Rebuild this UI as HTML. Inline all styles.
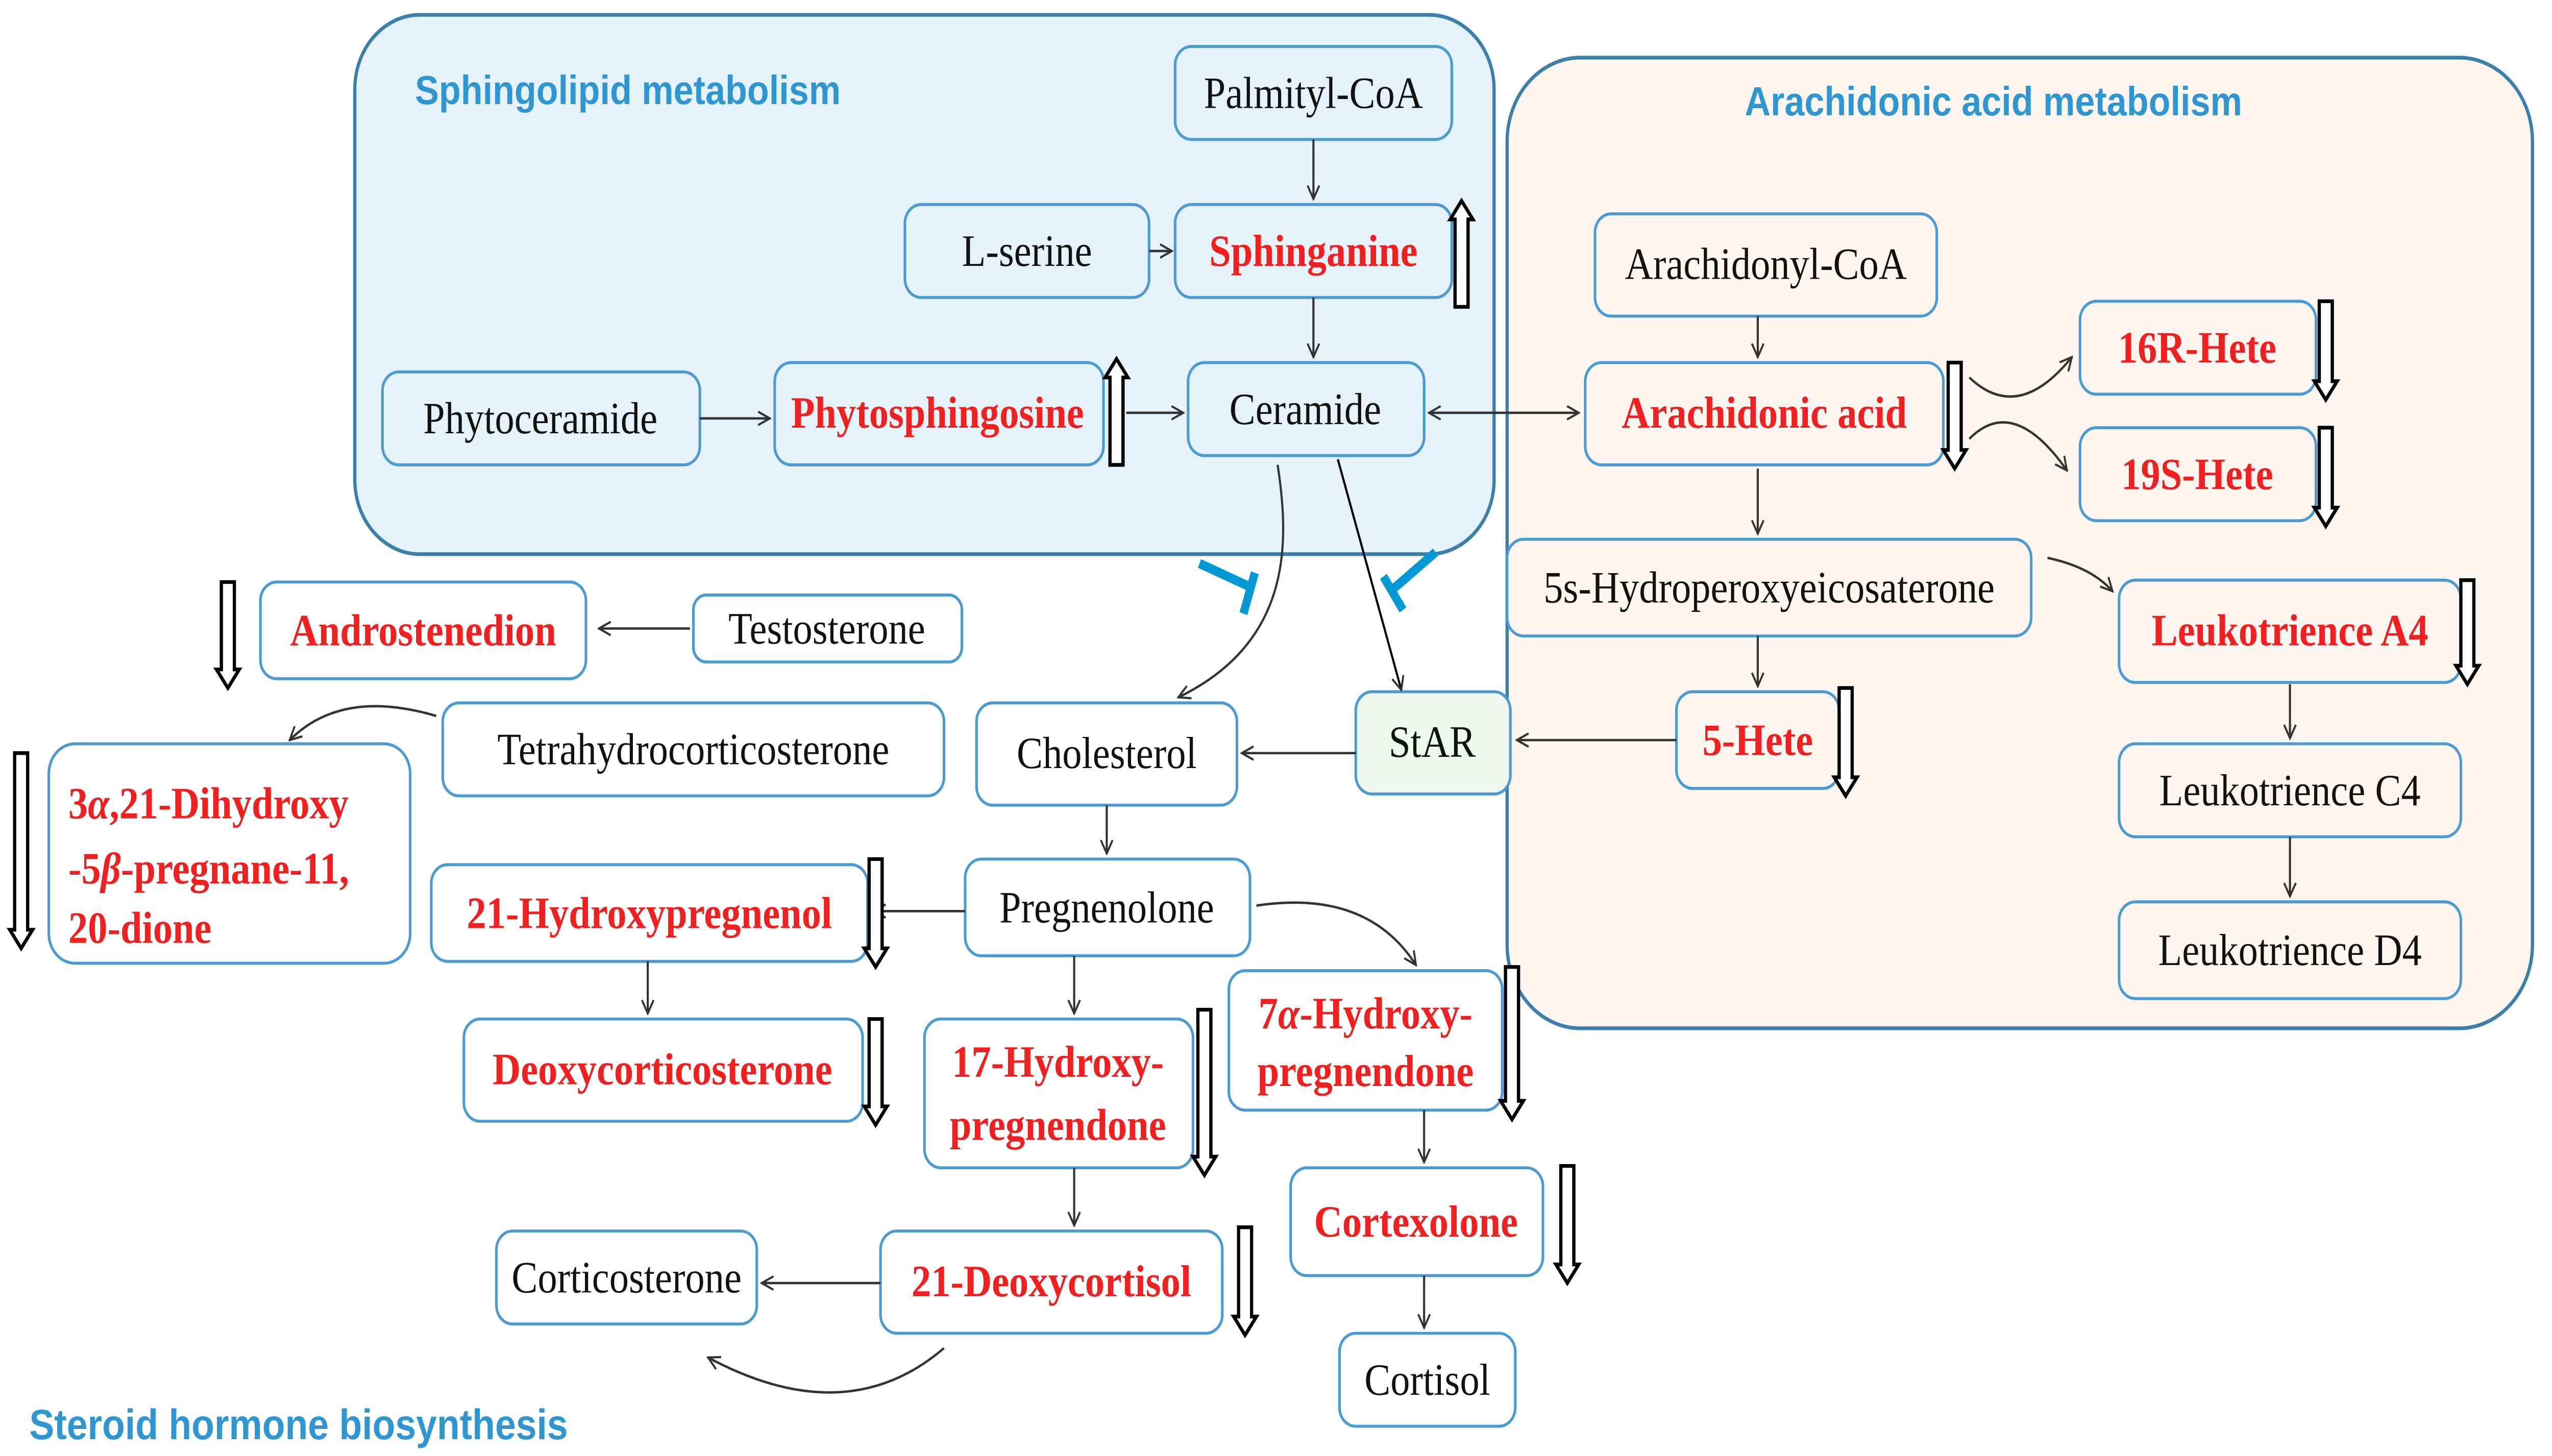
<!DOCTYPE html>
<html><head><meta charset="utf-8"><style>
html,body{margin:0;padding:0;background:#fff;width:100%;height:100%;overflow:hidden;}
svg{display:block;width:100vw;height:100vh;}
.b{fill:#fff;stroke:#4a9ad3;stroke-width:1.6;}
.t{font-family:"Liberation Serif",serif;font-size:24px;fill:#111;text-anchor:middle;dominant-baseline:central;}
.r{font-family:"Liberation Serif",serif;font-size:24px;fill:#f02020;font-weight:bold;text-anchor:middle;dominant-baseline:central;}
.ti{font-family:"Liberation Sans",sans-serif;font-size:22px;fill:#2f96d2;font-weight:bold;}
.c{fill:none;stroke:#333;stroke-width:1.3;}
.h{fill:#fff;stroke:#000;stroke-width:2;}
.inh{stroke:#0099d4;stroke-width:5;fill:none;}
</style></head><body>
<svg viewBox="0 0 1568 783" preserveAspectRatio="none" xmlns="http://www.w3.org/2000/svg">
<defs>
<marker id="m" viewBox="0 0 10 10" refX="9" refY="5" markerWidth="9" markerHeight="9" orient="auto-start-reverse" markerUnits="userSpaceOnUse"><path d="M1,1 L9,5 L1,9" fill="none" stroke="#333" stroke-width="1.3"/></marker>
</defs>
<rect x="218" y="8" width="700" height="290" rx="40" fill="#e5f2fa" stroke="#3d7fab" stroke-width="2"/>
<rect x="926" y="31" width="630" height="522" rx="45" fill="#fdf5f0" stroke="#3d7fab" stroke-width="2"/>
<text class="ti" x="255" y="56">Sphingolipid  metabolism</text>
<text class="ti" x="1072" y="62">Arachidonic acid metabolism</text>
<text class="ti" x="18" y="774" style="font-size:23px">Steroid hormone biosynthesis</text>

<rect class="b" x="722" y="25" width="170" height="50" rx="10" style="fill:#e5f2fa"/><text class="t" x="807" y="50">Palmityl-CoA</text>
<rect class="b" x="556" y="110" width="150" height="50" rx="10" style="fill:#e5f2fa"/><text class="t" x="631" y="135">L-serine</text>
<rect class="b" x="722" y="110" width="170" height="50" rx="10" style="fill:#e5f2fa"/><text class="r" x="807" y="135">Sphinganine</text>
<rect class="b" x="235" y="200" width="195" height="50" rx="10" style="fill:#e5f2fa"/><text class="t" x="332" y="225">Phytoceramide</text>
<rect class="b" x="476" y="195" width="202" height="55" rx="10" style="fill:#e5f2fa"/><text class="r" x="576" y="222">Phytosphingosine</text>
<rect class="b" x="730" y="195" width="145" height="50" rx="10" style="fill:#e5f2fa"/><text class="t" x="802" y="220">Ceramide</text>

<rect class="b" x="980" y="115" width="210" height="55" rx="10" style="fill:#fdf5f0"/><text class="t" x="1085" y="142">Arachidonyl-CoA</text>
<rect class="b" x="974" y="195" width="220" height="55" rx="10" style="fill:#fdf5f0"/><text class="r" x="1084" y="222">Arachidonic acid</text>
<rect class="b" x="1278" y="162" width="145" height="50" rx="10" style="fill:#fdf5f0"/><text class="r" x="1350" y="187">16R-Hete</text>
<rect class="b" x="1278" y="230" width="145" height="50" rx="10" style="fill:#fdf5f0"/><text class="r" x="1350" y="255">19S-Hete</text>
<rect class="b" x="926" y="290" width="322" height="52" rx="10" style="fill:#fdf5f0"/><text class="t" x="1087" y="316">5s-Hydroperoxyeicosaterone</text>
<rect class="b" x="1302" y="312" width="210" height="55" rx="10" style="fill:#fdf5f0"/><text class="r" x="1407" y="339">Leukotrience A4</text>
<rect class="b" x="1302" y="400" width="210" height="50" rx="10" style="fill:#fdf5f0"/><text class="t" x="1407" y="425">Leukotrience C4</text>
<rect class="b" x="1302" y="485" width="210" height="52" rx="10" style="fill:#fdf5f0"/><text class="t" x="1407" y="511">Leukotrience D4</text>
<rect class="b" x="1030" y="372" width="100" height="52" rx="10" style="fill:#fdf5f0"/><text class="r" x="1080" y="398">5-Hete</text>
<rect class="b" x="833" y="372" width="95" height="55" rx="10" style="fill:#eef6ee"/><text class="t" x="880" y="399">StAR</text>

<rect class="b" x="600" y="378" width="160" height="55" rx="10"/><text class="t" x="680" y="405">Cholesterol</text>
<rect class="b" x="426" y="320" width="165" height="36" rx="8"/><text class="t" x="508" y="338">Testosterone</text>
<rect class="b" x="160" y="313" width="200" height="52" rx="10"/><text class="r" x="260" y="339">Androstenedion</text>
<rect class="b" x="272" y="378" width="308" height="50" rx="10"/><text class="t" x="426" y="403">Tetrahydrocorticosterone</text>
<rect class="b" x="30" y="400" width="222" height="118" rx="16"/>
<text class="r" x="42" y="432" style="text-anchor:start">3<tspan font-style="italic">α</tspan>,21-Dihydroxy</text>
<text class="r" x="42" y="467" style="text-anchor:start">-5<tspan font-style="italic">β</tspan>-pregnane-11,</text>
<text class="r" x="42" y="499" style="text-anchor:start">20-dione</text>
<rect class="b" x="265" y="465" width="268" height="52" rx="10"/><text class="r" x="399" y="491">21-Hydroxypregnenol</text>
<rect class="b" x="593" y="462" width="175" height="52" rx="10"/><text class="t" x="680" y="488">Pregnenolone</text>
<rect class="b" x="285" y="548" width="245" height="55" rx="10"/><text class="r" x="407" y="575">Deoxycorticosterone</text>
<rect class="b" x="568" y="548" width="165" height="80" rx="10"/><text class="r" x="650" y="571">17-Hydroxy-</text><text class="r" x="650" y="605">pregnendone</text>
<rect class="b" x="755" y="522" width="168" height="75" rx="10"/><text class="r" x="839" y="545">7<tspan font-style="italic">α</tspan>-Hydroxy-</text><text class="r" x="839" y="576">pregnendone</text>
<rect class="b" x="793" y="628" width="155" height="58" rx="10"/><text class="r" x="870" y="657">Cortexolone</text>
<rect class="b" x="823" y="717" width="108" height="50" rx="10"/><text class="t" x="877" y="742">Cortisol</text>
<rect class="b" x="541" y="662" width="210" height="55" rx="10"/><text class="r" x="646" y="689">21-Deoxycortisol</text>
<rect class="b" x="305" y="662" width="160" height="50" rx="10"/><text class="t" x="385" y="687">Corticosterone</text>

<g class="c" marker-end="url(#m)">
<path d="M807,75 V107"/>
<path d="M706,135 H720"/>
<path d="M807,160 V192"/>
<path d="M430,225 H473"/>
<path d="M692,222 H727"/>
<path d="M878,222 H970" marker-start="url(#m)"/>
<path d="M1080,170 V192"/>
<path d="M1210,203 Q1240,228 1273,192"/>
<path d="M1210,236 Q1237,212 1270,253"/>
<path d="M1080,252 V287"/>
<path d="M1258,300 Q1285,305 1298,318"/>
<path d="M1407,368 V397"/>
<path d="M1407,450 V482"/>
<path d="M1080,342 V369"/>
<path d="M1030,398 H932"/>
<path d="M833,405 H763"/>
<path d="M822,247 L861,371" stroke="#000"/>
<path d="M785,250 C792,290 795,345 724,375"/>
<path d="M424,338 H368"/>
<path d="M268,385 Q210,370 178,398"/>
<path d="M680,433 V459"/>
<path d="M593,490 H537"/>
<path d="M772,487 Q840,478 870,519"/>
<path d="M660,514 V545"/>
<path d="M398,517 V545"/>
<path d="M660,628 V659"/>
<path d="M875,597 V625"/>
<path d="M875,686 V714"/>
<path d="M541,690 H468"/>
<path d="M580,725 Q520,770 435,730"/>
</g>
<path class="inh" d="M737,303 L769,316 M771,308 L764,330"/>
<path class="inh" d="M882,297 L857,316 M850,310 L862,328"/>

<g class="h">
<polygon points="1197,195 1205,195 1205,242 1208,242 1201,252 1194,242 1197,242"/>
<polygon points="1425,162 1433,162 1433,205 1436,205 1429,215 1422,205 1425,205"/>
<polygon points="1425,230 1433,230 1433,273 1436,273 1429,283 1422,273 1425,273"/>
<polygon points="1512,312 1520,312 1520,358 1523,358 1516,368 1509,358 1512,358"/>
<polygon points="1130,370 1138,370 1138,418 1141,418 1134,428 1127,418 1130,418"/>
<polygon points="136,313 144,313 144,360 147,360 140,370 133,360 136,360"/>
<polygon points="9,405 17,405 17,500 20,500 13,510 6,500 9,500"/>
<polygon points="534,462 542,462 542,510 545,510 538,520 531,510 534,510"/>
<polygon points="534,548 542,548 542,595 545,595 538,605 531,595 534,595"/>
<polygon points="736,543 744,543 744,622 747,622 740,632 733,622 736,622"/>
<polygon points="925,520 933,520 933,592 936,592 929,602 922,592 925,592"/>
<polygon points="959,627 967,627 967,680 970,680 963,690 956,680 959,680"/>
<polygon points="761,660 769,660 769,708 772,708 765,718 758,708 761,708"/>
<polygon points="894,165 902,165 902,118 905,118 898,108 891,118 894,118"/>
<polygon points="682,250 690,250 690,203 693,203 686,193 679,203 682,203"/>
</g>
</svg>
</body></html>
